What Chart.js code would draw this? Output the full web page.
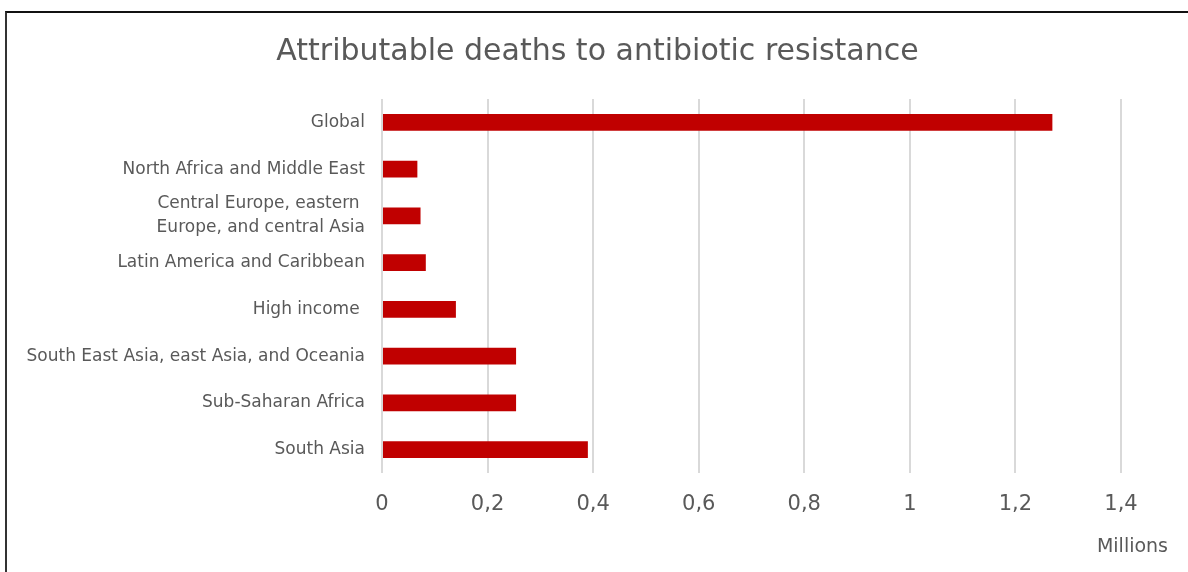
<!DOCTYPE html>
<html>
<head>
<meta charset="utf-8">
<script src="https://cdn.jsdelivr.net/npm/chart.js@4"></script>
<style>
  html, body { margin: 0; padding: 0; background: #fff; }
  body { width: 1188px; height: 572px; position: relative; overflow: hidden; }
  #frame {
    position: absolute; left: 5px; top: 11px; width: 1181px; height: 570px;
    border-top: 2px solid #111; border-left: 2px solid #333; border-right: 1px solid #e6e6e6;
    pointer-events: none;
  }
  canvas { position: absolute; left: 0; top: 0; }
</style>
</head>
<body>
<canvas id="c" width="1188" height="572"></canvas>
<div id="frame"></div>
<script>
// Regions, top to bottom
const regions = [
  'Global',
  'North Africa and Middle East',
  ['Central Europe, eastern ', 'Europe, and central Asia'],
  'Latin America and Caribbean',
  'High income ',
  'South East Asia, east Asia, and Oceania',
  'Sub-Saharan Africa',
  'South Asia'
];

// Deaths attributable to resistance, millions
const deaths = [1.27, 0.067, 0.073, 0.083, 0.14, 0.254, 0.254, 0.39];

// Horizontal axis labels (comma decimal separator)
const xTickLabels = ['0', '0,2', '0,4', '0,6', '0,8', '1', '1,2', '1,4'];

const TEXT = '#595959';
const FONT = '"DejaVu Sans", sans-serif';

// Centre the title over the frame rather than the whole canvas
const titleShift = {
  id: 'titleShift',
  afterLayout(chart) {
    if (chart.titleBlock) chart.titleBlock.left = 74;
  }
};

// Unit caption under the value axis, right-aligned
const unitsLabel = {
  id: 'unitsLabel',
  afterDraw(chart) {
    const { ctx, chartArea } = chart;
    ctx.save();
    ctx.fillStyle = TEXT;
    ctx.font = '19px ' + FONT;
    ctx.textAlign = 'right';
    ctx.textBaseline = 'middle';
    ctx.fillText('Millions', chartArea.right + 47, chartArea.bottom + 74);
    ctx.restore();
  }
};

new Chart(document.getElementById('c'), {
  type: 'bar',
  data: {
    labels: regions,
    datasets: [{
      data: deaths,
      backgroundColor: '#c00000',
      borderWidth: 0,
      categoryPercentage: 1,
      barPercentage: 0.36
    }]
  },
  plugins: [titleShift, unitsLabel],
  options: {
    indexAxis: 'y',
    responsive: false,
    animation: false,
    layout: { padding: { left: 0, right: 67, top: 0, bottom: 0 } },
    plugins: {
      legend: { display: false },
      tooltip: { enabled: false },
      title: {
        display: true,
        text: 'Attributable deaths to antibiotic resistance',
        color: TEXT,
        font: { family: FONT, size: 30, weight: 'normal', lineHeight: 1.2 },
        padding: { top: 34, bottom: 29 }
      }
    },
    scales: {
      x: {
        min: 0,
        max: 1.4,
        ticks: {
          stepSize: 0.2,
          color: TEXT,
          font: { family: FONT, size: 21 },
          padding: 19,
          callback: (v, i) => xTickLabels[i]
        },
        grid: { color: '#d9d9d9', lineWidth: 2, drawTicks: false },
        border: { display: false },
        afterFit: (s) => { s.height = 99; }
      },
      y: {
        ticks: {
          autoSkip: false,
          color: TEXT,
          font: { family: FONT, size: 17, lineHeight: 1.4 },
          padding: 17
        },
        grid: { display: false, drawTicks: false },
        border: { display: false },
        afterFit: (s) => { s.width = 382; }
      }
    }
  }
});
</script>
</body>
</html>
